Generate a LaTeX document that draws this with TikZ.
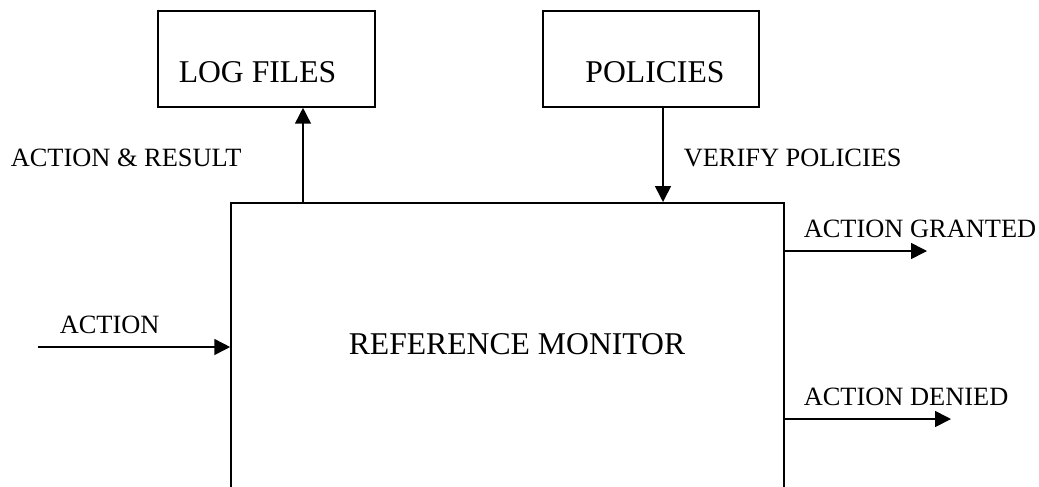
\documentclass[tikz,border=0pt]{standalone}
\usepackage{fontspec}
\setmainfont{Liberation Serif}
\usetikzlibrary{arrows.meta}
\tikzset{>={Triangle[width=6pt,length=6pt]}}
\newcommand\px{0.3788pt}

\begin{document}
\begin{tikzpicture}[x=\px, y=-\px, line width=0.6pt,
  box/.style={draw, minimum width=217*\px, minimum height=96*\px,
    text height=17.8pt, text depth=0pt, font=\large},
  lbl/.style={anchor=base west, inner sep=0pt, font=\normalsize}]

  \useasboundingbox (0,0) rectangle (1039,486);
  \clip (0,0) rectangle (1039,486);

  % boxes
  \node[box] (logs) at (266.5,59) {LOG FILES\hspace*{6.8pt}};
  \node[box, minimum width=216*\px] (policies) at (651,59) {\hspace*{3pt}POLICIES};
  \node[box, anchor=north, minimum width=553*\px, minimum height=330*\px,
    text height=8pt, text depth=18.2pt] (monitor) at (507.5,202) {\hspace*{7.2pt}REFERENCE MONITOR};

  % free ends
  \coordinate (logx) at (303,0);
  \coordinate (polx) at (663,0);
  \coordinate (start) at (38,347);
  \coordinate (grantedEnd) at (927,251);
  \coordinate (deniedEnd) at (951,419);

  \draw[->] (logx |- monitor.north) -- (logx |- logs.south); % monitor->logs
  \draw[->] (polx |- policies.south) -- (polx |- monitor.north); % policies->monitor
  \draw[->] (start) -- (start -| monitor.west);
  \draw[->] (grantedEnd -| monitor.east) -- (grantedEnd);
  \draw[->] (deniedEnd -| monitor.east) -- (deniedEnd);

  % labels
  \node[lbl] (lresult) at (10,166) {ACTION \& RESULT};
  \node[lbl] (lverify) at (683,166) {VERIFY POLICIES};
  \node[lbl] (laction) at (59,333) {ACTION};
  \node[lbl] (lgranted) at (803,237) {ACTION GRANTED};
  \node[lbl] (ldenied) at (803,405) {ACTION DENIED};

\end{tikzpicture}
\end{document}
